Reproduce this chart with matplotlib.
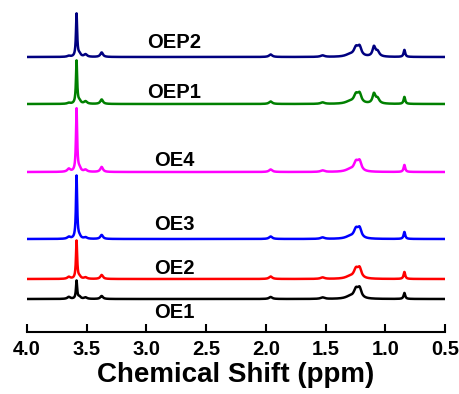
import numpy as np
import matplotlib
matplotlib.use('Agg')
import matplotlib.pyplot as plt

plt.rcParams['font.family'] = ['Liberation Sans', 'DejaVu Sans']
plt.rcParams['font.weight'] = 'bold'

# sample names, bottom to top
names = ["OE1", "OE2", "OE3", "OE4", "OEP1", "OEP2"]
colors = ["#000000", "#ff0000", "#0000ff", "#ff00ff", "#008000", "#000080"]
offsets = [33, 53, 93, 160, 228, 275]

# peak table (ppm, half width)
peak_pos = [3.65, 3.585, 3.56, 3.51, 3.375, 1.96, 1.525, 1.30, 1.245, 1.215, 1.095, 1.065, 0.84]
peak_w = [0.015, 0.006, 0.012, 0.015, 0.013, 0.016, 0.02, 0.04, 0.022, 0.018, 0.014, 0.018, 0.008]

h_oe1 = [2, 18, 2, 1.5, 3, 2, 1.5, 2, 9, 9, 0, 0, 6]
h_oe2 = [2, 38, 2, 1.5, 4, 2.5, 1.5, 2, 9, 9, 0, 0, 7]
h_oe3 = [2, 63, 2, 1.5, 4, 2.5, 1.5, 2, 9, 9, 0, 0, 7]
h_oe4 = [3, 63, 3, 2, 5, 2.5, 1.5, 2, 9, 9, 0, 0, 7]
h_oep1 = [1, 43, 2.5, 2.5, 4.5, 2.5, 1.5, 2, 8.5, 8.5, 9.5, 5, 7]
h_oep2 = [1, 43, 2.5, 2.5, 4.5, 2.5, 1.5, 2, 8.5, 8.5, 9.5, 5, 7]
heights = [h_oe1, h_oe2, h_oe3, h_oe4, h_oep1, h_oep2]

label_x = 2.77
label_y = [313, 268, 225, 160, 92, 42]  # pixel rows from top, converted below

ppm = np.linspace(4.0, 0.5, 3501)


def spectrum(hs):
    y = np.zeros_like(ppm)
    for x0, w, h in zip(peak_pos, peak_w, hs):
        y += h / (1 + ((ppm - x0) / w) ** 2)
    return y


fig = plt.figure(figsize=(4.6, 3.94), dpi=100)
ax = fig.add_axes([27 / 460, 62 / 394, 418 / 460, 327 / 394])

for name, col, off, hs, ly in zip(names, colors, offsets, heights, label_y):
    ax.plot(ppm, spectrum(hs) + off, color=col, lw=1.8)
    ax.text(label_x, 332 - ly, name, ha='center', va='center',
            fontsize=14.5, fontweight='bold')

ax.set_xlim(4.0, 0.5)
ax.set_ylim(0, 327)
ax.set_xticks(np.arange(0.5, 4.01, 0.5))
ax.set_xticklabels(["%.1f" % v for v in np.arange(0.5, 4.01, 0.5)])
ax.tick_params(axis='x', direction='in', length=6, width=1.5, labelsize=14.5, pad=6)
ax.set_yticks([])
for s in ['left', 'right', 'top']:
    ax.spines[s].set_visible(False)
ax.spines['bottom'].set_linewidth(1.5)
ax.set_xlabel("Chemical Shift (ppm)", fontsize=20, fontweight='bold', labelpad=2)

fig.savefig("out.png", dpi=100)
